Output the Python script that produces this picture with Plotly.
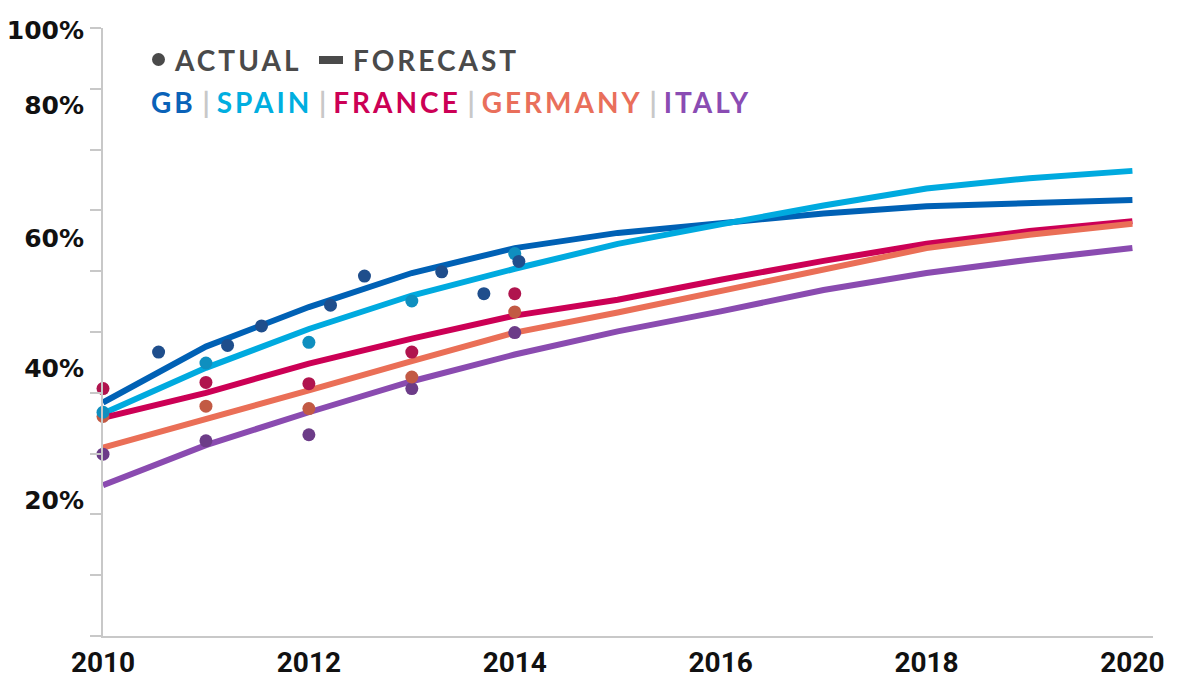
import plotly.graph_objects as go

# forecast (lines), one value per year
years = [2010, 2011, 2012, 2013, 2014, 2015, 2016, 2017, 2018, 2019, 2020]
gb_fc = [38.4, 47.6, 54.1, 59.7, 63.8, 66.3, 67.9, 69.5, 70.7, 71.3, 71.7]
spain_fc = [36.6, 44.1, 50.5, 56.0, 60.4, 64.5, 67.7, 70.8, 73.6, 75.3, 76.5]
france_fc = [35.9, 40.0, 44.8, 48.9, 52.7, 55.3, 58.6, 61.7, 64.5, 66.6, 68.2]
germany_fc = [31.0, 35.6, 40.4, 45.2, 49.9, 53.2, 56.7, 60.2, 63.8, 66.0, 67.8]
italy_fc = [24.8, 31.4, 36.8, 41.9, 46.3, 50.1, 53.4, 56.9, 59.7, 61.9, 63.8]

# actuals (dots)
gb_act_x = [2010.54, 2011.21, 2011.54, 2012.21, 2012.54, 2013.29, 2013.70, 2014.04]
gb_act = [46.7, 47.8, 51.0, 54.4, 59.2, 59.9, 56.3, 61.6]
act_years = [2010, 2011, 2012, 2013, 2014]
spain_act = [36.8, 44.9, 48.3, 55.1, 62.9]
france_act = [40.7, 41.7, 41.5, 46.7, 56.3]
germany_act = [36.1, 37.8, 37.4, 42.6, 53.3]
italy_act = [29.9, 32.1, 33.1, 40.7, 49.9]

x_ticks = [2010, 2012, 2014, 2016, 2018, 2020]
y_label_pos = [22.3, 44.0, 65.5, 87.3, 99.7]
y_label_text = ["20%", "40%", "60%", "80%", "100%"]

# the page body keeps its default 8px margin, so the figure is drawn 8px in
OFF = 8
PAGE_W, PAGE_H = 1182, 680
X0, X1, Y0, Y1 = 103, 1153, 28, 636   # plot area in page pixels


def px(x):
    return (x - X0) / (X1 - X0)


def py(y):
    return 1 - (y - Y0) / (Y1 - Y0)


fig = go.Figure()

lines = [
    ("GB", gb_fc, "#0061b5"),
    ("Spain", spain_fc, "#00aadf"),
    ("France", france_fc, "#cc0055"),
    ("Germany", germany_fc, "#ea6f57"),
    ("Italy", italy_fc, "#8a4bb0"),
]
for name, vals, col in lines:
    fig.add_trace(go.Scatter(x=years, y=vals, mode="lines", name=name,
                             line=dict(color=col, width=6), showlegend=False))

dots = [
    ("Italy", act_years, italy_act, "#6c3c88"),
    ("Germany", act_years, germany_act, "#c25a44"),
    ("France", act_years, france_act, "#b0144e"),
    ("Spain", act_years, spain_act, "#0f8fbf"),
    ("GB", gb_act_x, gb_act, "#1f4e8c"),
]
for name, xs, vals, col in dots:
    fig.add_trace(go.Scatter(x=xs, y=vals, mode="markers", name=name + " actual",
                             marker=dict(color=col, size=13), showlegend=False,
                             cliponaxis=False))

grey = "#c8c8c8"
fig.update_xaxes(range=[2010, 2020.2], tickvals=x_ticks, ticktext=[str(v) for v in x_ticks],
                 showgrid=False, zeroline=False, showline=True, linecolor=grey, linewidth=2,
                 ticks="", ticklabelstandoff=0, automargin=False,
                 tickfont=dict(family="Roboto, sans-serif", size=28, color="#111111",
                               weight="bold"))
fig.update_yaxes(range=[0, 100], tickvals=y_label_pos, ticktext=y_label_text,
                 showgrid=False, zeroline=False, showline=True, linecolor=grey, linewidth=2,
                 ticks="", ticklabelstandoff=12, automargin=False,
                 minor=dict(tickvals=list(range(0, 101, 10)), ticks="outside", ticklen=11,
                            tickcolor=grey, tickwidth=2),
                 tickfont=dict(family="DejaVu Sans", size=25, color="#111111", weight="bold"))

legend_font = dict(family="Lato, Open Sans, sans-serif", size=28, weight="bold")
spacing = "letter-spacing:3px"
dark = "#4a4a4a"
fig.add_shape(type="circle", xref="paper", yref="paper",
              x0=px(152), x1=px(165), y0=py(66), y1=py(53),
              fillcolor=dark, line=dict(width=0))
fig.add_shape(type="line", xref="paper", yref="paper",
              x0=px(319), x1=px(343), y0=py(60), y1=py(60),
              line=dict(color=dark, width=8))
fig.add_annotation(xref="paper", yref="paper", x=px(172), y=py(60), xanchor="left",
                   yanchor="middle", text=f"<span style='{spacing}'>ACTUAL</span>",
                   showarrow=False, font=dict(color=dark, **legend_font))
fig.add_annotation(xref="paper", yref="paper", x=px(351), y=py(60), xanchor="left",
                   yanchor="middle", text=f"<span style='{spacing}'>FORECAST</span>",
                   showarrow=False, font=dict(color=dark, **legend_font))

sep = "<span style='color:#c8c8c8'> | </span>"
names = [("GB", "#0a62b8"), ("SPAIN", "#00aee0"), ("FRANCE", "#cc0055"),
         ("GERMANY", "#e96f5b"), ("ITALY", "#8a4cb3")]
row2 = sep.join(f"<span style='color:{c};{spacing}'>{n}</span>" for n, c in names)
fig.add_annotation(xref="paper", yref="paper", x=px(149), y=py(102), xanchor="left",
                   yanchor="middle", text=row2, showarrow=False, font=legend_font)

fig.update_layout(width=PAGE_W - OFF, height=PAGE_H - OFF,
                  margin=dict(l=X0 - OFF, r=PAGE_W - X1, t=Y0 - OFF, b=PAGE_H - Y1),
                  plot_bgcolor="white", paper_bgcolor="white")

fig.write_html("out.html")
